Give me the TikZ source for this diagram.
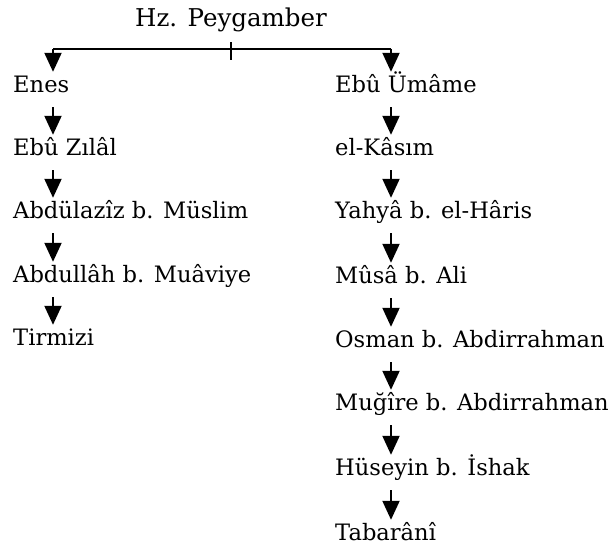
\documentclass[tikz,border=0pt]{standalone}
\usepackage{fontspec}
\setmainfont{DejaVu Serif}
\usetikzlibrary{arrows.meta}
\begin{document}
\begin{tikzpicture}[x=1pt,y=-1pt,
  nm/.style={anchor=base west,inner sep=0pt,font=\fontsize{22.6}{26}\selectfont,text height=16pt,text depth=5pt},
  arr/.style={line width=2pt,-{Triangle[length=19pt,width=17pt]}},
  ln/.style={line width=2pt}]
\useasboundingbox (0,0) rectangle (613,546);
\node[nm,anchor=base,font=\fontsize{24.5}{28}\selectfont] (root) at (231,27) {Hz. Peygamber};
\coordinate (lx) at (53,0);
\coordinate (rx) at (391,0);
% left column
\node[nm] (a1) at (13,92) {Enes};
\node[nm] (a2) at (13,155) {Ebû Zılâl};
\node[nm] (a3) at (13,218) {Abdülazîz b. Müslim};
\node[nm] (a4) at (13,282) {Abdullâh b. Muâviye};
\node[nm] (a5) at (13,345) {Tirmizi};
% right column
\node[nm] (b1) at (335,92) {Ebû Ümâme};
\node[nm] (b2) at (335,155) {el-Kâsım};
\node[nm] (b3) at (335,218) {Yahyâ b. el-Hâris};
\node[nm] (b4) at (335,283) {Mûsâ b. Ali};
\node[nm] (b5) at (335,347) {Osman b. Abdirrahman};
\node[nm] (b6) at (335,410) {Muğîre b. Abdirrahman};
\node[nm] (b7) at (335,475) {Hüseyin b. İshak};
\node[nm] (b8) at (335,540) {Tabarânî};
% bracket
\coordinate (top) at (231,48.5);
\draw[ln] ([yshift=-10pt]root.south) -- ++(0,18);
\draw[arr] (top -| lx) -- ([yshift=4pt]a1.north -| lx);
\draw[arr] (top -| rx) -- ([yshift=4pt]b1.north -| rx);
\draw[ln] (top -| lx) -- (top -| rx);
% chains
\foreach \u/\v in {a1/a2,a2/a3,a3/a4,a4/a5}
  \draw[arr] ([yshift=-10pt]\u.south -| lx) -- ([yshift=4pt]\v.north -| lx);
\foreach \u/\v in {b1/b2,b2/b3,b3/b4,b4/b5,b5/b6,b6/b7,b7/b8}
  \draw[arr] ([yshift=-10pt]\u.south -| rx) -- ([yshift=4pt]\v.north -| rx);
\end{tikzpicture}
\end{document}
